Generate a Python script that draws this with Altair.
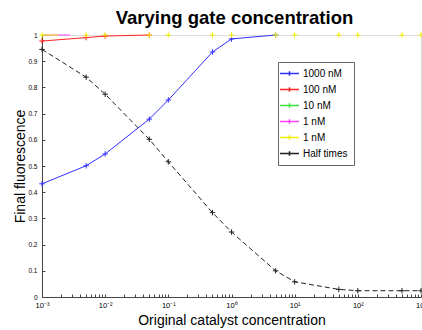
import altair as alt
import pandas as pd

# Catalyst concentrations used for every series (log spaced)
conc = [0.001, 0.005, 0.01, 0.05, 0.1, 0.5, 1, 5, 10, 50, 100, 500, 1000]

# Final fluorescence per gate concentration
fl_1000 = [0.432, 0.501, 0.546, 0.679, 0.752, 0.935, 0.985, 1.0]
fl_100 = [0.977, 0.990, 0.996, 1.0]
conc_1a = [0.001, 0.0028]
fl_1a = [1.0, 1.0]
conc_1b_line = [0.001, 0.0018]
fl_1b_line = [1.0, 1.0]
fl_1b = [1.0, 1.0, 1.0, 1.0, 1.0, 1.0, 1.0, 1.0, 1.0, 1.0, 1.0, 1.0, 1.0]

# Normalised half-completion times
half_times = [0.945, 0.839, 0.774, 0.602, 0.516, 0.322, 0.248, 0.100,
              0.058, 0.029, 0.024, 0.024, 0.024]

series_names = ["1000 nM", "100 nM", "10 nM", "1 nM", "1 nM ", "Half times"]
series_colors = ["#3030ff", "#ff2020", "#40e040", "#ff40ff", "#f0f000", "#222222"]

y_ticks = [0, 0.1, 0.2, 0.3, 0.4, 0.5, 0.6, 0.7, 0.8, 0.9, 1]
x_major = [0.001, 0.01, 0.1, 1, 10, 100, 1000]
x_ticks = [m * d for d in x_major[:-1] for m in range(1, 10)] + [1000]


def rows(name, xs, ys):
    return [{"series": name, "conc": x, "value": y} for x, y in zip(xs, ys)]


solid = pd.DataFrame(
    rows("1000 nM", conc, fl_1000)
    + rows("100 nM", conc, fl_100)
    + rows("1 nM", conc_1a, fl_1a)
    + rows("1 nM ", conc_1b_line, fl_1b_line)
)
dashed = pd.DataFrame(rows("Half times", conc, half_times))
markers = pd.DataFrame(
    rows("1000 nM", conc, fl_1000)
    + rows("100 nM", conc, fl_100)
    + rows("1 nM ", conc, fl_1b)
    + rows("Half times", conc, half_times)
)

FONT = "Liberation Sans"
PLUS = "M-1,0H1M0,-1V1"

legend = alt.Legend(
    title=None,
    orient="none",
    legendX=236,
    legendY=27,
    symbolType="M-2,0H2M0,-0.5V0.5",
    symbolSize=90,
    symbolStrokeWidth=1.5,
    symbolOpacity=1,
    labelFont=FONT,
    labelFontSize=10,
    labelColor="#000",
    labelOffset=8,
    rowPadding=5,
    padding=6,
    strokeColor="#666",
    fillColor="white",
)

color_scale = alt.Scale(domain=series_names, range=series_colors)
color_legend = alt.Color("series:N", scale=color_scale, legend=legend)
color_plain = alt.Color("series:N", scale=color_scale, legend=None)

x_scale = alt.Scale(type="log", domain=[0.001, 1000], nice=False)
y_scale = alt.Scale(domain=[0, 1], nice=False)

x_label_expr = (
    "abs(log(datum.value)/LN10 - round(log(datum.value)/LN10)) < 0.001 ? "
    "'10' + ['\u207b\u00b3','\u207b\u00b2','\u207b\u00b9','\u2070','\u00b9','\u00b2','\u00b3']"
    "[round(log(datum.value)/LN10)+3] : ''"
)

x_axis = alt.Axis(
    title="Original catalyst concentration",
    values=x_ticks,
    labelExpr=x_label_expr,
    ticks=False,
    labelPadding=4,
    labelFont=FONT,
    labelFontSize=7.5,
    labelColor="#000",
    labelOverlap=False,
    labelFlush=False,
    domainColor="#444",
    titleFont=FONT,
    titleFontSize=14,
    titleFontWeight="normal",
    titleColor="#000",
    titlePadding=5,
    grid=False,
)
y_axis = alt.Axis(
    title="Final fluorescence",
    values=y_ticks,
    format="~g",
    ticks=False,
    labelPadding=5,
    labelFont=FONT,
    labelFontSize=6.5,
    labelColor="#000",
    domainColor="#444",
    titleFont=FONT,
    titleFontSize=14,
    titleFontWeight="normal",
    titleColor="#000",
    titlePadding=0,
    grid=False,
)

solid_lines = alt.Chart(solid).mark_line(strokeWidth=1).encode(
    x=alt.X("conc:Q", scale=x_scale, axis=x_axis),
    y=alt.Y("value:Q", scale=y_scale, axis=y_axis),
    color=color_legend,
    detail="series:N",
)

# inward-pointing tick marks drawn by a second pair of axes moved onto the frame
dashed_line = alt.Chart(dashed).mark_line(strokeWidth=1, strokeDash=[5, 3]).encode(
    x=alt.X(
        "conc:Q",
        scale=x_scale,
        axis=alt.Axis(
            orient="top", offset=-262, values=x_ticks, labels=False,
            domain=False, title=None, tickSize=3, tickColor="#444", grid=False,
        ),
    ),
    y=alt.Y(
        "value:Q",
        scale=y_scale,
        axis=alt.Axis(
            orient="right", offset=-379, values=y_ticks, labels=False,
            domain=False, title=None, tickSize=3, tickColor="#444", grid=False,
        ),
    ),
    color=color_plain,
)

points = alt.Chart(markers).mark_point(
    shape=PLUS, size=30, filled=False, strokeWidth=1, opacity=1
).encode(
    x=alt.X("conc:Q", scale=x_scale, axis=None),
    y=alt.Y("value:Q", scale=y_scale, axis=None),
    color=color_plain,
)

chart = (
    alt.layer(solid_lines, dashed_line, points)
    .resolve_axis(x="independent", y="independent")
    .properties(
        width=379,
        height=262,
        autosize=alt.AutoSizeParams(type="none"),
        padding={"left": 42, "top": 35, "right": 1, "bottom": 33},
        title=alt.TitleParams(
            "Varying gate concentration",
            font=FONT,
            fontSize=18.5,
            fontWeight="bold",
            color="#000",
            anchor="middle",
            offset=3,
            dx=3,
        ),
    )
    .configure_view(stroke=None)
    .configure(background="white")
)

chart.save("out.html", embed_options={"renderer": "svg", "actions": False})
